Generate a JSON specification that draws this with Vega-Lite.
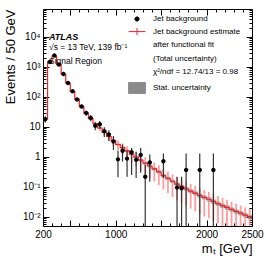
{
  "$schema": "https://vega.github.io/schema/vega-lite/v6.json",
  "width": 209,
  "height": 217,
  "autosize": {"type": "none"},
  "padding": {"left": 43, "top": 9, "right": 14, "bottom": 31},
  "background": "white",
  "title": {
    "text": "ATLAS",
    "subtitle": ["\u00a0\u00a0√s = 13 TeV, 139 fb⁻¹", "\u00a0\u00a0Signal Region"],
    "anchor": "start", "frame": "group", "orient": "top", "offset": -56.5, "dx": 6,
    "font": "Liberation Sans", "fontSize": 9, "fontStyle": "italic", "fontWeight": "bold", "color": "black",
    "subtitleFont": "Liberation Sans", "subtitleFontSize": 8.5, "subtitleColor": "black",
    "subtitlePadding": 1, "subtitleLineHeight": 14
  },
  "datasets": {
    "bins": [
      {"lo":200,"c":225,"e":19,"tlo":17.1,"thi":20.9,"slo":18.05,"shi":19.95},
      {"lo":250,"c":275,"e":1450,"tlo":1406,"thi":1494,"slo":1435,"shi":1465},
      {"lo":300,"c":325,"e":2300,"tlo":2231,"thi":2369,"slo":2277,"shi":2323},
      {"lo":350,"c":375,"e":1200,"tlo":1164,"thi":1236,"slo":1188,"shi":1212},
      {"lo":400,"c":425,"e":570,"tlo":547,"thi":593,"slo":561,"shi":579},
      {"lo":450,"c":475,"e":285,"tlo":271,"thi":299,"slo":279,"shi":291},
      {"lo":500,"c":525,"e":150,"tlo":141,"thi":159,"slo":147,"shi":153},
      {"lo":550,"c":575,"e":83,"tlo":76.4,"thi":89.6,"slo":80.9,"shi":85.1},
      {"lo":600,"c":625,"e":47,"tlo":42.3,"thi":51.7,"slo":45.6,"shi":48.4},
      {"lo":650,"c":675,"e":29,"tlo":25.5,"thi":32.5,"slo":28.0,"shi":30.0},
      {"lo":700,"c":725,"e":19,"tlo":16.3,"thi":21.7,"slo":18.2,"shi":19.8},
      {"lo":750,"c":775,"e":13,"tlo":10.8,"thi":15.2,"slo":12.4,"shi":13.6},
      {"lo":800,"c":825,"e":9.2,"tlo":7.36,"thi":11.04,"slo":8.74,"shi":9.66},
      {"lo":850,"c":875,"e":6.6,"tlo":5.02,"thi":8.18,"slo":6.24,"shi":6.96},
      {"lo":900,"c":925,"e":4.8,"tlo":3.46,"thi":6.14,"slo":4.51,"shi":5.09},
      {"lo":950,"c":975,"e":3.5,"tlo":2.38,"thi":4.62,"slo":3.27,"shi":3.73},
      {"lo":1000,"c":1025,"e":2.6,"tlo":1.66,"thi":3.54,"slo":2.42,"shi":2.78},
      {"lo":1050,"c":1075,"e":2.03,"tlo":1.22,"thi":2.84,"slo":1.88,"shi":2.18},
      {"lo":1100,"c":1125,"e":1.59,"tlo":0.89,"thi":2.29,"slo":1.46,"shi":1.72},
      {"lo":1150,"c":1175,"e":1.25,"tlo":0.65,"thi":1.85,"slo":1.14,"shi":1.36},
      {"lo":1200,"c":1225,"e":0.98,"tlo":0.48,"thi":1.48,"slo":0.89,"shi":1.07},
      {"lo":1250,"c":1275,"e":0.78,"tlo":0.359,"thi":1.2,"slo":0.706,"shi":0.854},
      {"lo":1300,"c":1325,"e":0.62,"tlo":0.267,"thi":0.973,"slo":0.558,"shi":0.682},
      {"lo":1350,"c":1375,"e":0.5,"tlo":0.2,"thi":0.8,"slo":0.448,"shi":0.553},
      {"lo":1400,"c":1425,"e":0.4,"tlo":0.152,"thi":0.648,"slo":0.356,"shi":0.444},
      {"lo":1450,"c":1475,"e":0.32,"tlo":0.115,"thi":0.525,"slo":0.283,"shi":0.357},
      {"lo":1500,"c":1525,"e":0.24,"tlo":0.0816,"thi":0.398,"slo":0.211,"shi":0.269},
      {"lo":1550,"c":1575,"e":0.195,"tlo":0.0624,"thi":0.328,"slo":0.171,"shi":0.219},
      {"lo":1600,"c":1625,"e":0.155,"tlo":0.0465,"thi":0.264,"slo":0.135,"shi":0.175},
      {"lo":1650,"c":1675,"e":0.125,"tlo":0.0363,"thi":0.214,"slo":0.108,"shi":0.142},
      {"lo":1700,"c":1725,"e":0.104,"tlo":0.0291,"thi":0.179,"slo":0.0894,"shi":0.1186},
      {"lo":1750,"c":1775,"e":0.087,"tlo":0.0235,"thi":0.151,"slo":0.0744,"shi":0.0996},
      {"lo":1800,"c":1825,"e":0.073,"tlo":0.019,"thi":0.127,"slo":0.0621,"shi":0.084},
      {"lo":1850,"c":1875,"e":0.062,"tlo":0.0155,"thi":0.1085,"slo":0.0527,"shi":0.0713},
      {"lo":1900,"c":1925,"e":0.052,"tlo":0.0125,"thi":0.0915,"slo":0.0439,"shi":0.0601},
      {"lo":1950,"c":1975,"e":0.045,"tlo":0.01035,"thi":0.0797,"slo":0.038,"shi":0.052},
      {"lo":2000,"c":2025,"e":0.039,"tlo":0.00897,"thi":0.069,"slo":0.0328,"shi":0.0452},
      {"lo":2050,"c":2075,"e":0.033,"tlo":0.00726,"thi":0.0587,"slo":0.0277,"shi":0.0383},
      {"lo":2100,"c":2125,"e":0.028,"tlo":0.00616,"thi":0.0498,"slo":0.0234,"shi":0.0326},
      {"lo":2150,"c":2175,"e":0.024,"tlo":0.00504,"thi":0.043,"slo":0.02,"shi":0.028},
      {"lo":2200,"c":2225,"e":0.021,"tlo":0.00441,"thi":0.0376,"slo":0.0174,"shi":0.0246},
      {"lo":2250,"c":2275,"e":0.0178,"tlo":0.00356,"thi":0.032,"slo":0.0148,"shi":0.0208},
      {"lo":2300,"c":2325,"e":0.0154,"tlo":0.00308,"thi":0.0277,"slo":0.0128,"shi":0.018},
      {"lo":2350,"c":2375,"e":0.0134,"tlo":0.00268,"thi":0.0241,"slo":0.0111,"shi":0.0157},
      {"lo":2400,"c":2425,"e":0.0116,"tlo":0.00232,"thi":0.0209,"slo":0.00963,"shi":0.01357},
      {"lo":2450,"c":2475,"e":0.0102,"tlo":0.00204,"thi":0.0184,"slo":0.00847,"shi":0.01193},
      {"lo":2500,"e":0.0102,"slo":0.00847,"shi":0.01193}
    ],
    "obs": [
      {"c":225,"n":18,"lo":14,"hi":22.5},
      {"c":275,"n":1450,"lo":1412,"hi":1488},
      {"c":325,"n":2400,"lo":2351,"hi":2449},
      {"c":375,"n":1200,"lo":1165,"hi":1235},
      {"c":425,"n":580,"lo":556,"hi":604},
      {"c":475,"n":290,"lo":273,"hi":307},
      {"c":525,"n":155,"lo":143,"hi":167},
      {"c":575,"n":82,"lo":73,"hi":91},
      {"c":625,"n":48,"lo":41,"hi":55},
      {"c":675,"n":29,"lo":23.6,"hi":34.4},
      {"c":725,"n":20,"lo":15.5,"hi":24.5},
      {"c":775,"n":11,"lo":7.7,"hi":14.3},
      {"c":825,"n":12.3,"lo":8.8,"hi":15.8},
      {"c":875,"n":7.2,"lo":4.6,"hi":9.8},
      {"c":925,"n":5.6,"lo":3.4,"hi":7.8},
      {"c":975,"n":3.3,"lo":1.7,"hi":5.0},
      {"c":1025,"n":0.83,"lo":0.21,"hi":1.6},
      {"c":1075,"n":1.6,"lo":0.7,"hi":2.6},
      {"c":1125,"n":0.88,"lo":0.22,"hi":1.6},
      {"c":1175,"n":1.44,"lo":0.25,"hi":2.0},
      {"c":1225,"n":0.8,"lo":0.2,"hi":1.5},
      {"c":1275,"n":1.17,"lo":0.3,"hi":2.0},
      {"c":1325,"n":0.22,"lo":0.003,"hi":0.55},
      {"c":1375,"n":0.65,"lo":0.15,"hi":1.2},
      {"c":1525,"n":0.72,"lo":0.2,"hi":1.3},
      {"c":1675,"n":0.095,"lo":0.003,"hi":0.22},
      {"c":1725,"n":0.09,"lo":0.003,"hi":0.22},
      {"c":1775,"n":0.37,"lo":0.003,"hi":1.3},
      {"c":1925,"n":0.37,"lo":0.003,"hi":1.3},
      {"c":2075,"n":0.37,"lo":0.003,"hi":1.3}
    ]
  },
  "resolve": {"axis": {"x": "independent", "y": "independent"}},
  "layer": [
    {
      "data": {"name": "bins"},
      "transform": [{"filter": "datum.c != null"}],
      "mark": {"type": "rule", "color": "#ff8c8c", "strokeWidth": 1.8, "opacity": 0.85, "clip": true},
      "encoding": {
        "x": {"field": "c", "type": "quantitative",
              "scale": {"domain": [200, 2500], "nice": false, "zero": false},
              "axis": {"orient": "bottom", "values": [200, 500, 1000, 1500, 2000, 2500], "format": "d",
                       "labelExpr": "datum.value == 500 || datum.value == 1500 ? '' : datum.label",
                       "tickSize": -6, "labelPadding": 9, "labelOverlap": false, "labelFlush": false, "labelBound": false,
                       "title": "mₜ [GeV]", "titleAnchor": "end", "titlePadding": 3}},
        "y": {"field": "tlo", "type": "quantitative",
              "scale": {"type": "log", "domain": [0.005, 85000], "nice": false},
              "axis": {"orient": "left", "values": [0.01, 0.1, 1, 10, 100, 1000, 10000],
                       "labelExpr": "datum.value == 0.01 ? '10⁻²' : datum.value == 0.1 ? '10⁻¹' : datum.value == 1 ? '1' : datum.value == 10 ? '10' : datum.value == 100 ? '10²' : datum.value == 1000 ? '10³' : '10⁴'",
                       "tickSize": -6, "labelPadding": 9, "labelOverlap": false, "labelBound": false,
                       "title": "Events / 50 GeV", "titleAnchor": "end", "titlePadding": 5}},
        "y2": {"field": "thi"}
      }
    },
    {
      "data": {"name": "bins"},
      "mark": {"type": "area", "interpolate": "step-after", "opacity": 0.65, "clip": true},
      "encoding": {
        "x": {"field": "lo", "type": "quantitative",
              "axis": {"orient": "bottom", "values": [300,400,600,700,800,900,1100,1200,1300,1400,1600,1700,1800,1900,2100,2200,2300,2400],
                       "labels": false, "tickSize": -3, "title": null}},
        "y": {"field": "slo", "type": "quantitative",
              "axis": {"orient": "left", "values": [0.006,0.007,0.008,0.009,0.02,0.03,0.04,0.05,0.06,0.07,0.08,0.09,0.2,0.3,0.4,0.5,0.6,0.7,0.8,0.9,2,3,4,5,6,7,8,9,20,30,40,50,60,70,80,90,200,300,400,500,600,700,800,900,2000,3000,4000,5000,6000,7000,8000,9000,20000,30000,40000,50000,60000,70000,80000],
                       "labels": false, "tickSize": -3, "title": null}},
        "y2": {"field": "shi"},
        "color": {"datum": "Stat. uncertainty", "type": "nominal",
          "scale": {"domain": ["Jet background", "Jet background estimate", " after functional fit", "(Total uncertainty)", "χ²/ndf = 12.74/13 = 0.98", "Stat. uncertainty"],
                    "range": ["black", "#e8232a", "transparent", "transparent", "transparent", "#8a8a8a"]},
          "legend": {
            "orient": "none", "legendX": 90, "legendY": 6, "title": null, "padding": 0,
            "labelFont": "Liberation Sans", "labelFontSize": 8, "labelColor": "black", "labelLimit": 200,
            "symbolSize": 49, "symbolStrokeWidth": 1, "symbolOpacity": 1, "rowPadding": 1.6, "labelOffset": 12
          }
        }
      }
    },
    {
      "data": {"name": "bins"},
      "mark": {"type": "line", "interpolate": "step-after", "strokeWidth": 1.2, "clip": true},
      "encoding": {
        "x": {"field": "lo", "type": "quantitative",
              "axis": {"orient": "top", "values": [500, 1000, 1500, 2000], "labels": false, "tickSize": -6, "title": null}},
        "y": {"field": "e", "type": "quantitative",
              "axis": {"orient": "right", "values": [0.01, 0.1, 1, 10, 100, 1000, 10000], "labels": false, "tickSize": -6, "title": null}},
        "color": {"datum": "Jet background estimate", "type": "nominal"}
      }
    },
    {
      "data": {"name": "obs"},
      "mark": {"type": "rule", "color": "#333333", "strokeWidth": 1.2, "clip": true},
      "encoding": {
        "x": {"field": "c", "type": "quantitative",
              "axis": {"orient": "top", "values": [300,400,600,700,800,900,1100,1200,1300,1400,1600,1700,1800,1900,2100,2200,2300,2400],
                       "labels": false, "tickSize": -3, "title": null}},
        "y": {"field": "lo", "type": "quantitative",
              "axis": {"orient": "right", "values": [0.006,0.007,0.008,0.009,0.02,0.03,0.04,0.05,0.06,0.07,0.08,0.09,0.2,0.3,0.4,0.5,0.6,0.7,0.8,0.9,2,3,4,5,6,7,8,9,20,30,40,50,60,70,80,90,200,300,400,500,600,700,800,900,2000,3000,4000,5000,6000,7000,8000,9000,20000,30000,40000,50000,60000,70000,80000],
                       "labels": false, "tickSize": -3, "title": null}},
        "y2": {"field": "hi"}
      }
    },
    {
      "data": {"name": "obs"},
      "mark": {"type": "point", "filled": true, "size": 54, "opacity": 1, "clip": true},
      "encoding": {
        "x": {"field": "c", "type": "quantitative", "axis": null},
        "y": {"field": "n", "type": "quantitative", "axis": null},
        "color": {"datum": "Jet background", "type": "nominal"},
        "shape": {"datum": "Jet background", "type": "nominal",
          "scale": {"domain": ["Jet background", "Jet background estimate", " after functional fit", "(Total uncertainty)", "χ²/ndf = 12.74/13 = 0.98", "Stat. uncertainty"],
                    "range": ["M-0.6,0A0.6,0.6 0 1,0 0.6,0A0.6,0.6 0 1,0 -0.6,0", "M-2.4,0H2.4M0,-1V1", "circle", "circle", "circle", "M-2.4,-1.55H2.4V1.55H-2.4Z"]},
          "legend": {
            "orient": "none", "legendX": 90, "legendY": 6, "title": null, "padding": 0,
            "labelFont": "Liberation Sans", "labelFontSize": 8, "labelColor": "black", "labelLimit": 200,
            "symbolSize": 49, "symbolStrokeWidth": 1, "symbolOpacity": 1, "rowPadding": 1.6, "labelOffset": 12
          }
        }
      }
    }
  ],
  "config": {
    "view": {"stroke": "black", "strokeWidth": 1},
    "axis": {"labelFont": "Liberation Sans", "labelFontSize": 10, "labelColor": "black",
             "titleFont": "Liberation Sans", "titleFontSize": 13, "titleFontWeight": "normal", "titleColor": "black",
             "tickColor": "black", "tickWidth": 1, "domain": false, "grid": false}
  }
}
